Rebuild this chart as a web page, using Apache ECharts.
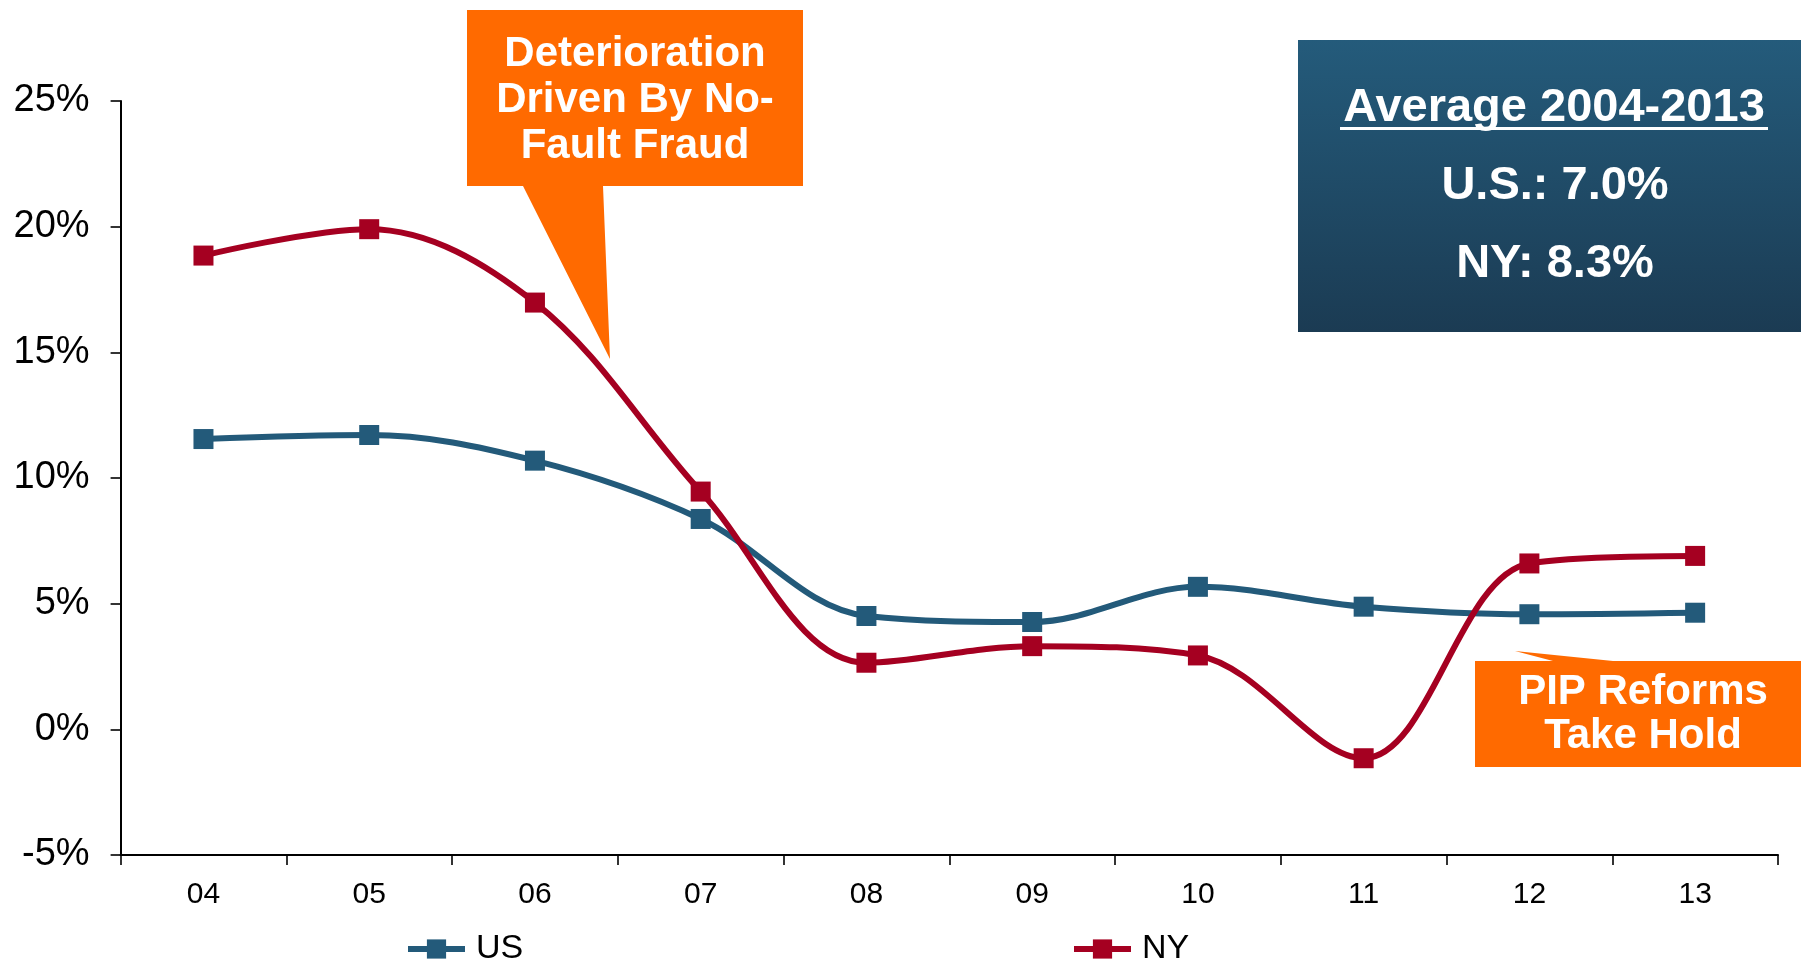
<!DOCTYPE html>
<html>
<head>
<meta charset="utf-8">
<title>Loss trend: US vs NY</title>
<script src="https://cdn.jsdelivr.net/npm/echarts@6/dist/echarts.min.js"></script>
<style>
  html, body { margin: 0; padding: 0; background: #ffffff; }
  #chart { width: 1801px; height: 961px; }
</style>
</head>
<body>
<div id="chart"></div>
<script>
// Year labels (two-digit)
const years = ['04', '05', '06', '07', '08', '09', '10', '11', '12', '13'];

// Yearly values, in percent
const usValues = [11.55, 11.71, 10.69, 8.37, 4.51, 4.27, 5.67, 4.88, 4.58, 4.64];
const nyValues = [18.85, 19.9, 16.98, 9.46, 2.65, 3.31, 2.94, -1.15, 6.6, 6.9];

// Value-axis range and step
const yMin = -5;
const yMax = 25;
const yStep = 5;

// Callout and summary-box texts
const calloutTop = ['Deterioration', 'Driven By No-', 'Fault Fraud'];
const calloutBottom = ['PIP Reforms', 'Take Hold'];
const avgTitle = 'Average 2004-2013';
const avgLines = ['U.S.: 7.0%', 'NY: 8.3%'];

const US_COLOR = '#235a7a';
const NY_COLOR = '#a50021';
const ORANGE = '#ff6a00';
const FONT = '"Liberation Sans", Arial, Helvetica, sans-serif';

const chart = echarts.init(document.getElementById('chart'), null, { renderer: 'canvas' });

function boldText(text, x, y, size) {
  return {
    type: 'text',
    x: x, y: y,
    z: 100,
    style: {
      text: text,
      fill: '#ffffff',
      font: 'bold ' + size + 'px ' + FONT,
      textAlign: 'center',
      textVerticalAlign: 'middle'
    }
  };
}

const graphics = [
  // Orange callout with pointer, upper
  {
    type: 'polygon',
    z: 90,
    shape: { points: [[467, 10], [803, 10], [803, 186], [603, 186], [610, 359], [523, 186], [467, 186]] },
    style: { fill: ORANGE }
  },
  // Orange callout with pointer, lower right
  {
    type: 'polygon',
    z: 90,
    shape: { points: [[1475, 661], [1553, 661], [1515, 651], [1613, 661], [1801, 661], [1801, 767], [1475, 767]] },
    style: { fill: ORANGE }
  },
  // Summary box
  {
    type: 'rect',
    z: 90,
    shape: { x: 1298, y: 40, width: 503, height: 292 },
    style: {
      fill: new echarts.graphic.LinearGradient(0, 0, 0, 1, [
        { offset: 0, color: '#245b7b' },
        { offset: 1, color: '#1b3b53' }
      ])
    }
  },
  // Underline of the summary title
  {
    type: 'rect',
    z: 100,
    shape: { x: 1340, y: 127, width: 428, height: 3 },
    style: { fill: '#ffffff' }
  }
];

calloutTop.forEach(function (t, i) { graphics.push(boldText(t, 635, 54 + i * 46, 42)); });
calloutBottom.forEach(function (t, i) { graphics.push(boldText(t, 1643, 692 + i * 44, 42)); });
graphics.push(boldText(avgTitle, 1554, 108, 47));
avgLines.forEach(function (t, i) { graphics.push(boldText(t, 1555, 186 + i * 78, 47)); });

const legendBase = {
  top: 927,
  itemWidth: 57, itemHeight: 24,
  lineStyle: { width: 6 },
  textStyle: { fontSize: 34, color: '#000000', fontFamily: FONT, padding: [0, 0, 0, 6] }
};

const option = {
  backgroundColor: '#ffffff',
  animation: false,
  textStyle: { fontFamily: FONT },
  grid: { left: 120.6, right: 23, top: 101, bottom: 106, containLabel: false },
  legend: [
    Object.assign({ data: ['US'], left: 400 }, legendBase),
    Object.assign({ data: ['NY'], left: 1066 }, legendBase)
  ],
  xAxis: {
    type: 'category',
    data: years,
    boundaryGap: true,
    axisLine: { onZero: false, lineStyle: { color: '#000000', width: 2 } },
    axisTick: { show: true, length: 10, alignWithLabel: false, lineStyle: { color: '#000000', width: 1.6 } },
    axisLabel: { fontSize: 30, color: '#000000', margin: 25, fontFamily: FONT },
    splitLine: { show: false }
  },
  yAxis: {
    type: 'value',
    min: yMin, max: yMax, interval: yStep,
    axisLine: { show: true, lineStyle: { color: '#000000', width: 2 } },
    axisTick: { show: true, length: 10, lineStyle: { color: '#000000', width: 1.6 } },
    axisLabel: { fontSize: 38, color: '#000000', margin: 31, fontFamily: FONT, formatter: '{value}%' },
    splitLine: { show: false }
  },
  series: [
    {
      name: 'US',
      type: 'line',
      data: usValues,
      smooth: 0.35,
      symbol: 'rect',
      symbolSize: 20,
      lineStyle: { color: US_COLOR, width: 6 },
      itemStyle: { color: US_COLOR },
      z: 3
    },
    {
      name: 'NY',
      type: 'line',
      data: nyValues,
      smooth: 0.35,
      symbol: 'rect',
      symbolSize: 20,
      lineStyle: { color: NY_COLOR, width: 6 },
      itemStyle: { color: NY_COLOR },
      z: 4
    }
  ],
  graphic: graphics
};

chart.setOption(option);
</script>
</body>
</html>
